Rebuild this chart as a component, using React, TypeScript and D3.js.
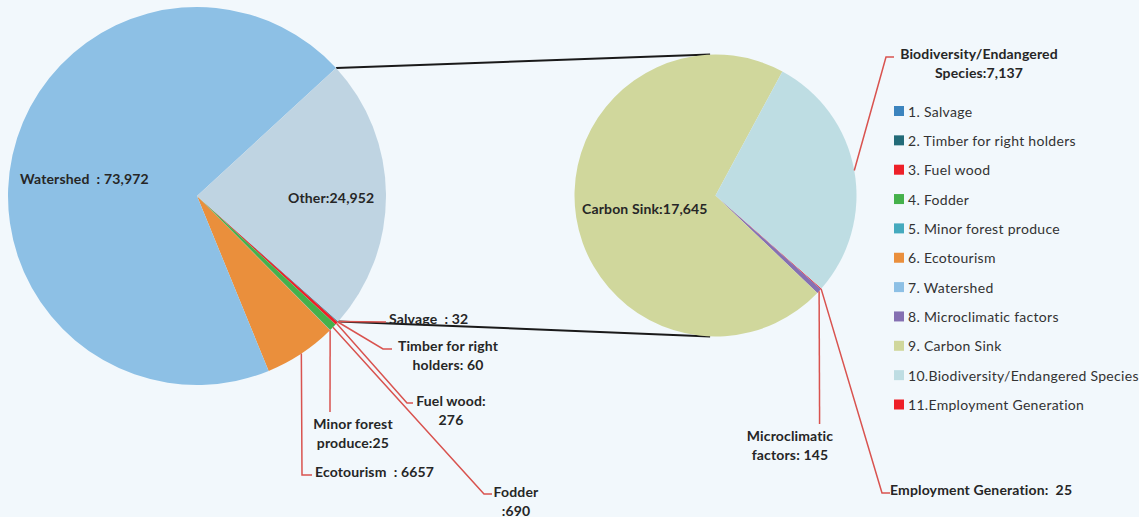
import React from "react";
import * as d3 from "d3";

// ---------- DATA ----------
const leftCategories = [
  "Salvage",
  "Timber for right holders",
  "Fuel wood",
  "Fodder",
  "Minor forest produce",
  "Ecotourism",
  "Watershed",
  "Other",
];
const leftValues = [32, 60, 276, 690, 25, 6657, 73972, 24952];
const leftColors = ["#3c84be", "#236b78", "#ee2028", "#45b14b", "#45aabe", "#ea8f3c", "#8dc0e5", "#bfd4e2"];

const rightCategories = [
  "Microclimatic factors",
  "Carbon Sink",
  "Biodiversity/Endangered Species",
  "Employment Generation",
];
const rightValues = [145, 17645, 7137, 25];
const rightColors = ["#8570b2", "#d0d79c", "#bedde3", "#ee2028"];
// clockwise order in the secondary pie
const rightOrder = [3, 0, 1, 2];

const legendLabels = [
  "1. Salvage",
  "2. Timber for right holders",
  "3. Fuel wood",
  "4. Fodder",
  "5. Minor forest produce",
  "6. Ecotourism",
  "7. Watershed",
  "8. Microclimatic factors",
  "9. Carbon Sink",
  "10.Biodiversity/Endangered Species",
  "11.Employment Generation",
];
const legendColors = [
  "#3c84be", "#236b78", "#ee2028", "#45b14b", "#45aabe", "#ea8f3c",
  "#8dc0e5", "#8570b2", "#d0d79c", "#bedde3", "#ee2028",
];

const NB = "\u00a0";
// label texts
const leftLabelText: Record<string, string[]> = {
  "Salvage": [`Salvage${NB}${NB}: 32`],
  "Timber for right holders": ["Timber for right", "holders: 60"],
  "Fuel wood": ["Fuel wood:", "276"],
  "Fodder": ["Fodder", ":690"],
  "Minor forest produce": ["Minor forest", "produce:25"],
  "Ecotourism": [`Ecotourism${NB}${NB}: 6657`],
  "Watershed": [`Watershed${NB}${NB}: 73,972`],
  "Other": ["Other:24,952"],
};
const rightLabelText: Record<string, string[]> = {
  "Microclimatic factors": ["Microclimatic", "factors: 145"],
  "Carbon Sink": ["Carbon Sink:17,645"],
  "Biodiversity/Endangered Species": ["Biodiversity/Endangered", "Species:7,137"],
  "Employment Generation": [`Employment Generation:${NB}${NB}25`],
};

// ---------- LAYOUT ----------
const W = 1139;
const H = 517;
const L = { cx: 197, cy: 196, r: 189, start: 131.6 };
const R = { cx: 715.5, cy: 195.5, r: 141, start: 131.3 };
const deg = Math.PI / 180;

type Lay = { x: number; y: number; anchor: "start" | "middle"; leader?: [number, number][]; gap?: number };
const leftLayout: Record<string, Lay> = {
  "Salvage": { x: 389, y: 318, anchor: "start", leader: [[386, 322]] },
  "Timber for right holders": { x: 448, y: 345, anchor: "middle", leader: [[383, 349], [392, 349]] },
  "Fuel wood": { x: 451, y: 400, anchor: "middle", leader: [[407, 403], [413, 403]] },
  "Fodder": { x: 516, y: 491, anchor: "middle", leader: [[484, 494], [492, 494]] },
  "Minor forest produce": { x: 353, y: 423, anchor: "middle", leader: [[330, 412]] },
  "Ecotourism": { x: 315, y: 471, anchor: "start", leader: [[302, 475], [312, 475]] },
  "Watershed": { x: 20, y: 178, anchor: "start" },
  "Other": { x: 288, y: 197, anchor: "start" },
};
const rightLayout: Record<string, Lay> = {
  "Microclimatic factors": { x: 790, y: 435, anchor: "middle", leader: [[819.6, 424]] },
  "Carbon Sink": { x: 582, y: 208, anchor: "start" },
  "Biodiversity/Endangered Species": { x: 979, y: 53, anchor: "middle", leader: [[886, 57], [894, 57]] },
  "Employment Generation": { x: 890, y: 489, anchor: "start", leader: [[882, 493], [890, 493]] },
};

const FONT = "Lato, 'Open Sans', sans-serif";
const TEXT = "#262626";
const LEADER = "#d9534f";

function polar(cx: number, cy: number, r: number, a: number): [number, number] {
  return [cx + r * Math.sin(a), cy - r * Math.cos(a)];
}

export default function App() {
  const leftData = leftCategories.map((c, i) => ({ name: c, value: leftValues[i], color: leftColors[i] }));
  const rightData = rightOrder.map((i) => ({ name: rightCategories[i], value: rightValues[i], color: rightColors[i] }));

  const leftPie = d3
    .pie<any>()
    .sort(null)
    .value((d) => d.value)
    .startAngle(L.start * deg)
    .endAngle(L.start * deg + 2 * Math.PI)(leftData);
  const rightPie = d3
    .pie<any>()
    .sort(null)
    .value((d) => d.value)
    .startAngle(R.start * deg)
    .endAngle(R.start * deg + 2 * Math.PI)(rightData);

  const leftArc = d3.arc<any>().innerRadius(0).outerRadius(L.r);
  const rightArc = d3.arc<any>().innerRadius(0).outerRadius(R.r);

  const other = leftPie.find((p) => p.data.name === "Other")!;
  const topA = polar(L.cx, L.cy, L.r, other.startAngle);
  const botA = polar(L.cx, L.cy, L.r, other.endAngle);
  const topB = polar(R.cx, R.cy, R.r, -2.2 * deg);
  const botB = polar(R.cx, R.cy, R.r, 182.2 * deg);

  const line = d3.line();

  const renderLabels = (
    pie: d3.PieArcDatum<any>[],
    c: { cx: number; cy: number; r: number },
    layout: Record<string, Lay>,
    texts: Record<string, string[]>
  ) =>
    pie.map((p) => {
      const name = p.data.name;
      const lay = layout[name];
      const lines = texts[name];
      const mid = (p.startAngle + p.endAngle) / 2;
      const s = polar(c.cx, c.cy, c.r, mid);
      return (
        <g key={name}>
          {lay.leader && (
            <path
              d={line([s, ...lay.leader]) || ""}
              fill="none"
              stroke={LEADER}
              strokeWidth={1.5}
            />
          )}
          <text
            x={lay.x}
            y={lay.y}
            textAnchor={lay.anchor}
            fontFamily={FONT}
            fontWeight={700}
            fontSize={14}
            letterSpacing={0.15}
            fill={TEXT}
            dominantBaseline="central"
          >
            {lines.map((t, i) => (
              <tspan key={i} x={lay.x} dy={i === 0 ? 0 : 19}>
                {t}
              </tspan>
            ))}
          </text>
        </g>
      );
    });

  return (
    <svg
      width={W}
      height={H}
      style={{ position: "absolute", left: 0, top: 0, display: "block" }}
    >
      <rect x={0} y={0} width={W} height={H} fill="#f2f8fc" />

      {/* connector lines */}
      <path d={line([topA, topB]) || ""} stroke="#1a1a1a" strokeWidth={2} fill="none" />
      <path d={line([botA, botB]) || ""} stroke="#1a1a1a" strokeWidth={2} fill="none" />

      <g transform={`translate(${L.cx},${L.cy})`}>
        {leftPie.map((p) => (
          <path key={p.data.name} d={leftArc(p) || ""} fill={p.data.color} />
        ))}
      </g>
      <g transform={`translate(${R.cx},${R.cy})`}>
        {rightPie.map((p) => (
          <path key={p.data.name} d={rightArc(p) || ""} fill={p.data.color} />
        ))}
      </g>

      {renderLabels(leftPie, L, leftLayout, leftLabelText)}
      {renderLabels(rightPie, R, rightLayout, rightLabelText)}

      {/* legend */}
      <g>
        {legendLabels.map((t, i) => {
          const y = 111 + i * 29.35;
          return (
            <g key={t}>
              <rect x={894} y={y - 5} width={10} height={10} fill={legendColors[i]} />
              <text
                x={908}
                y={y}
                dominantBaseline="central"
                fontFamily={FONT}
                fontSize={14}
                letterSpacing={0.3}
                fill="#333"
              >
                {t}
              </text>
            </g>
          );
        })}
      </g>
    </svg>
  );
}
